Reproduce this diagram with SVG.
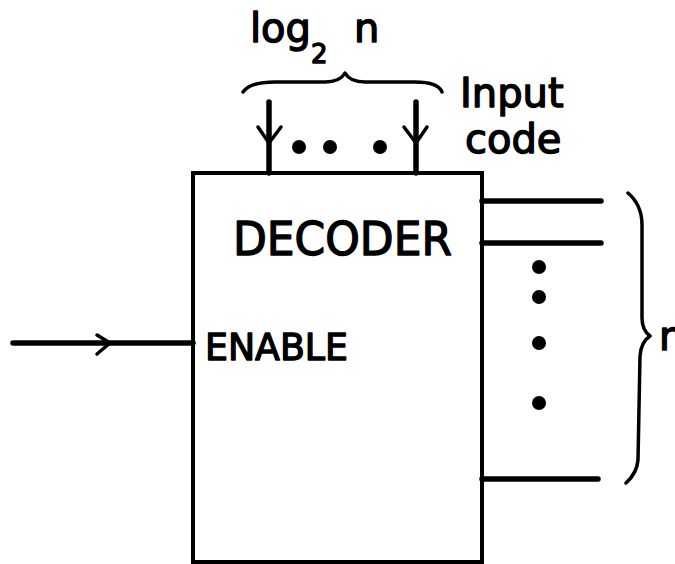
<svg xmlns="http://www.w3.org/2000/svg" width="675" height="564" viewBox="0 0 675 564">
  <style>
    .ln { stroke: #000; stroke-width: 5.5; stroke-linecap: round; fill: none; }
    .thin { stroke: #000; stroke-width: 3.5; stroke-linecap: round; stroke-linejoin: round; fill: none; }
    .txt { font-family: "DejaVu Sans", sans-serif; fill: #000; stroke: #000; stroke-width: 1.4; stroke-linejoin: round; }
    .dot { fill: #000; }
  </style>
  <rect width="675" height="564" fill="#fff"/>
  <g id="decoder">
    <rect x="193" y="173" width="289" height="389" fill="none" stroke="#000" stroke-width="4"/>
    <text class="txt" x="233" y="255" font-size="46" textLength="219" lengthAdjust="spacingAndGlyphs">DECODER</text>
    <text class="txt" x="205" y="360" font-size="37" textLength="143" lengthAdjust="spacingAndGlyphs">ENABLE</text>
  </g>
  <g id="input-label">
    <text class="txt" x="250" y="42" font-size="40">log</text>
    <text class="txt" x="311" y="63" font-size="26">2</text>
    <text class="txt" x="354" y="42" font-size="40">n</text>
    <path class="thin" d="M243,92 Q250,82 275,82 L325,82 Q340,82 345,73 Q350,82 365,82 L415,82 Q438,82 442,92"/>
    <text class="txt" x="460" y="107" font-size="40">Input</text>
    <text class="txt" x="465" y="153" font-size="40">code</text>
  </g>
  <g id="output-label">
    <path class="thin" d="M628,193 Q642,205 642,225 L642,318 Q642,330 650,336 Q641,342 640,356 L638,460 Q637,473 626,483"/>
    <text class="txt" x="659" y="350" font-size="40">n</text>
  </g>
  <g id="connectors">
    <line class="ln" x1="269" y1="102" x2="269" y2="173"/>
    <polyline class="thin" points="258,127 269,143 281,127"/>
    <line class="ln" x1="416" y1="102" x2="416" y2="173"/>
    <polyline class="thin" points="404,127 416,143 427,127"/>
    <line class="ln" x1="13" y1="343" x2="193" y2="343"/>
    <polyline class="thin" points="97,335 110,343 97,354"/>
    <line class="ln" x1="482" y1="201" x2="601" y2="201"/>
    <line class="ln" x1="482" y1="243" x2="601" y2="243"/>
    <line class="ln" x1="482" y1="479" x2="598" y2="479"/>
  </g>
  <g id="dots">
    <circle class="dot" cx="299" cy="147" r="7"/>
    <circle class="dot" cx="330" cy="147" r="7"/>
    <circle class="dot" cx="380" cy="147" r="7"/>
    <circle class="dot" cx="539" cy="267" r="7"/>
    <circle class="dot" cx="539" cy="297" r="7"/>
    <circle class="dot" cx="539" cy="343" r="7"/>
    <circle class="dot" cx="539" cy="403" r="7"/>
  </g>
</svg>
